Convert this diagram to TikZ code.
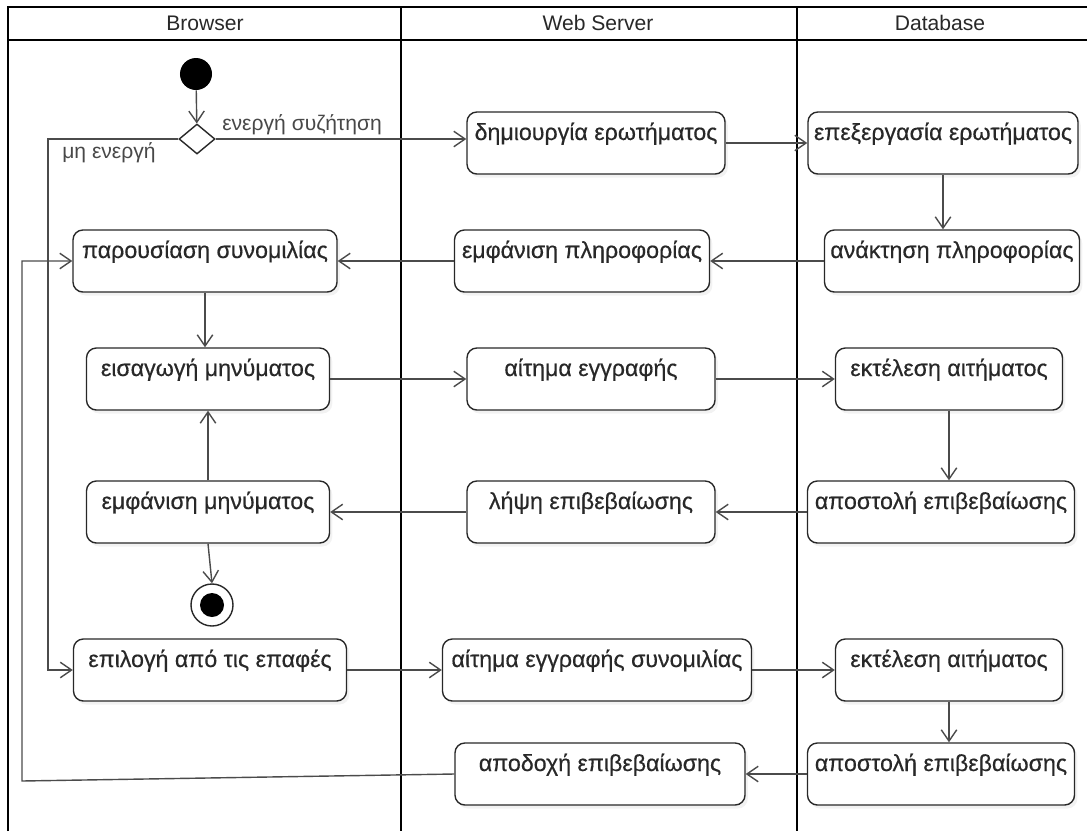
\documentclass[tikz,border=0pt]{standalone}
\usepackage{fontspec}
\setmainfont{Liberation Sans}
\newfontfamily\actfont{Liberation Sans}[FakeBold=0.4]
\usetikzlibrary{arrows.meta,positioning,shapes.geometric,shadows}
\definecolor{ink}{RGB}{40,40,40}
\definecolor{wire}{RGB}{75,75,75}
\tikzset{
  act/.style={draw=ink,line width=1pt,rounded corners=7pt,fill=white,
    drop shadow={opacity=0.10,shadow xshift=2pt,shadow yshift=-2.5pt},
    inner xsep=0pt,inner ysep=0pt,text height=0.7cm,text depth=0.85cm,
    font=\actfont\fontsize{16.5}{19}\selectfont,text=ink},
  flow/.style={draw=wire,line width=1pt,-{Straight Barb[length=8pt,width=11pt]}},
  lane/.style={line width=1.6pt},
  guard/.style={font=\fontsize{15}{18}\selectfont,text=ink!85,inner sep=0pt},
}

\begin{document}
\begin{tikzpicture}[x=0.025cm,y=-0.025cm]
  \useasboundingbox (0,0) rectangle (1087,831);
  % swimlanes
  \draw[lane] (8,831) -- (8,7) -- (1087,7);
  \draw[lane] (8,40) -- (1087,40);
  \foreach \x in {401,797} \draw[lane] (\x,7) -- (\x,831);
  \foreach \x/\t [count=\i] in {205/Browser,598/Web Server,940/Database}
    \node[font=\fontsize{15}{18}\selectfont,text=ink] (head\i) at (\x,23) {\t};

  % actions
  \foreach \n/\x/\y/\w/\t in {
      pres/205/261/264/παρουσίαση συνομιλίας,
      eisag/208/379/243/εισαγωγή μηνύματος,
      emfmsg/208/512/243/εμφάνιση μηνύματος,
      epilogi/210/670/273/επιλογή από τις επαφές,
      dimiourgia/596/143/258/δημιουργία ερωτήματος,
      emfplir/582/261/255/εμφάνιση πληροφορίας,
      aitima/591/379/248/αίτημα εγγραφής,
      lipsi/591/512/248/λήψη επιβεβαίωσης,
      aitsyn/597/670/309/αίτημα εγγραφής συνομιλίας,
      apodoxi/600/774/290/αποδοχή επιβεβαίωσης,
      epex/943/143/270/επεξεργασία ερωτήματος,
      anakt/952/261/255/ανάκτηση πληροφορίας,
      ektel/949/379/227/εκτέλεση αιτήματος,
      apost/941/512/267/αποστολή επιβεβαίωσης,
      ektelb/949/670/227/εκτέλεση αιτήματος,
      apostb/941/774/267/αποστολή επιβεβαίωσης}{
    \node[act,minimum width=\w*0.025cm] (\n) at (\x,\y) {\t};
  }

  % start, decision, end
  \node[circle,fill=black,minimum size=0.8cm,inner sep=0pt] (start) at (196,74) {};
  \node[diamond,draw=ink,line width=1pt,fill=white,minimum width=0.9cm,
    minimum height=0.75cm,inner sep=0pt] (dec) at (197,139) {};
  \node[circle,draw=ink,line width=1pt,fill=white,minimum size=1.05cm,inner sep=0pt] (stop) at (212,605) {};
  \node[circle,fill=black,minimum size=0.6cm,inner sep=0pt] (stopdot) at (stop) {};

  \node[guard,anchor=base west] (yes) at (222,130) {ενεργή συζήτηση};
  \node[guard,anchor=base west] (no) at (62,158) {μη ενεργή};

  \coordinate (inner) at (48,139);
  \coordinate (outer) at (22,781);

  % flows
  \draw[flow] (start) -- (dec);
  \draw[flow] (dec.east) -- (dec.east -| dimiourgia.west);
  \draw[flow] (dec.west) -- (inner) |- (epilogi.west);
  \draw[flow] (dimiourgia.east) -- (epex.west);
  \draw[flow] (epex.south) -- (epex.south |- anakt.north);
  \draw[flow] (anakt.west) -- (emfplir.east);
  \draw[flow] (emfplir.west) -- (pres.east);
  \draw[flow] (pres.south) -- (pres.south |- eisag.north);
  \draw[flow] (eisag.east) -- (aitima.west);
  \draw[flow] (aitima.east) -- (ektel.west);
  \draw[flow] (ektel.south) -- (ektel.south |- apost.north);
  \draw[flow] (apost.west) -- (lipsi.east);
  \draw[flow] (lipsi.west) -- (emfmsg.east);
  \draw[flow] (emfmsg.north) -- (eisag.south);
  \draw[flow] (emfmsg.south) -- (stop.north);
  \draw[flow] (epilogi.east) -- (aitsyn.west);
  \draw[flow] (aitsyn.east) -- (ektelb.west);
  \draw[flow] (ektelb.south) -- (ektelb.south |- apostb.north);
  \draw[flow] (apostb.west) -- (apodoxi.east);
  \draw[flow] (apodoxi.west) -- (outer) |- (pres.west);
\end{tikzpicture}
\end{document}
